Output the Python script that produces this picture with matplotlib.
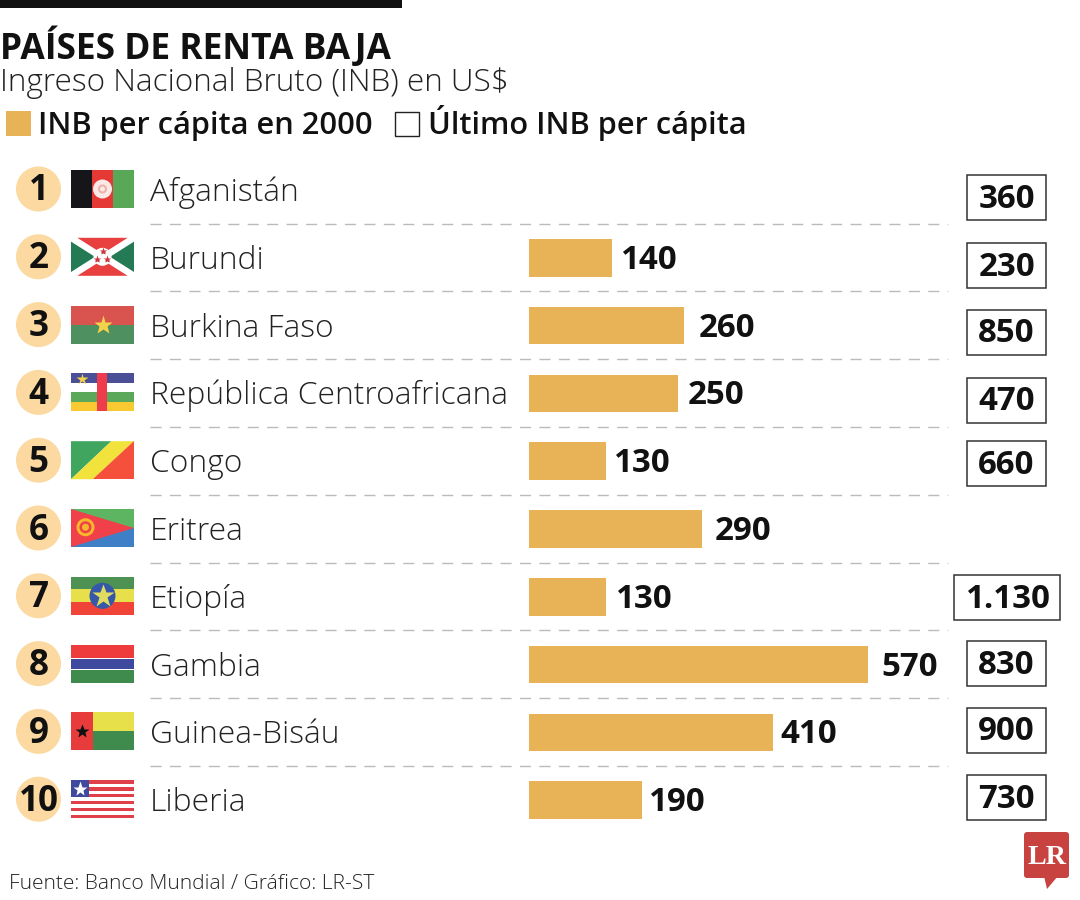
#Países de renta baja: infografía de INB per cápita

import matplotlib
matplotlib.use('Agg')
import matplotlib.pyplot as plt
from matplotlib.patches import Circle, Polygon, Rectangle, FancyBboxPatch
import numpy as np

paises = ['Afganistán', 'Burundi', 'Burkina Faso', 'República Centroafricana', 'Congo',
          'Eritrea', 'Etiopía', 'Gambia', 'Guinea-Bisáu', 'Liberia']
inb_2000 = [None, 140, 260, 250, 130, 290, 130, 570, 410, 190]
inb_ultimo = [360, 230, 850, 470, 660, None, 1130, 830, 900, 730]
etiqueta_ultimo = ['360', '230', '850', '470', '660', '', '1.130', '830', '900', '730']

plt.rcParams['font.family'] = ['Open Sans', 'DejaVu Sans']

AMBAR = '#E8B257'
CREMA = '#FBD9A0'
FONDO_Y0 = 190
PASO = 67.8

fig = plt.figure(figsize=(10.8, 9), dpi=100)

# todo el lienzo en píxeles
ax = fig.add_axes([0, 0, 1, 1])
ax.set_xlim(0, 1080)
ax.set_ylim(900, 0)
ax.axis('off')


def pt(px):
    return px * 0.72


def fila(i):
    return FONDO_Y0 + PASO * i


# encabezado
ax.add_patch(Rectangle((0, 0), 402, 8, color='#111111', lw=0))
ax.text(0, 59, 'PAÍSES DE RENTA BAJA', fontsize=pt(35.4), fontweight='bold', color='#111111', va='baseline')
ax.text(0, 91, 'Ingreso Nacional Bruto (INB) en US$', fontsize=pt(31.5), fontweight='light', color='#222222', va='baseline')
ax.add_patch(Rectangle((6, 111), 25, 25, color=AMBAR, lw=0))
ax.text(38, 134, 'INB per cápita en 2000', fontsize=pt(30.8), fontweight='semibold', color='#111111', va='baseline')
ax.add_patch(Rectangle((395, 112), 24, 24, fc='white', ec='#222222', lw=1))
ax.text(428, 134, 'Último INB per cápita', fontsize=pt(30.8), fontweight='semibold', color='#111111', va='baseline')


def banderas(i):
    x0, y0, w, h = 71, fila(i) - 20, 63, 38

    def r(a, b, c, d, col):
        ax.add_patch(Rectangle((x0 + a * w, y0 + b * h), (c - a) * w, (d - b) * h, fc=col, ec='none', lw=0, zorder=3))

    def p(pts, col):
        pts = [(x0 + a * w, y0 + b * h) for a, b in pts]
        ax.add_patch(Polygon(pts, closed=True, fc=col, ec='none', lw=0, zorder=3))

    def c(a, b, rad, col):
        ax.add_patch(Circle((x0 + a * w, y0 + b * h), rad, fc=col, ec='none', lw=0, zorder=4))

    def e(a, b, s, col):
        ax.plot([x0 + a * w], [y0 + b * h], marker='*', ms=s, mfc=col, mec='none', zorder=5)

    return r, p, c, e


# banderas
r, p, c, e = banderas(0)
r(0, 0, .335, 1, '#15151A'); r(.335, 0, .665, 1, '#E53935'); r(.665, 0, 1, 1, '#58A858')
c(.5, .5, 9.5, '#FBE9E7'); c(.5, .5, 4.5, '#F0B0A8'); c(.5, .5, 2.5, '#FBE9E7')

r, p, c, e = banderas(1)
r(0, 0, 1, 1, 'white')
p([(.1, 0), (.9, 0), (.5, .42)], '#E8403F'); p([(.1, 1), (.9, 1), (.5, .58)], '#E8403F')
p([(0, .1), (.38, .5), (0, .9)], '#247A55'); p([(1, .1), (.62, .5), (1, .9)], '#247A55')
c(.5, .5, 9, 'white'); e(.5, .35, 6, '#C8383E'); e(.42, .56, 6, '#C8383E'); e(.57, .56, 6, '#C8383E')

r, p, c, e = banderas(2)
r(0, 0, 1, .5, '#D9534F'); r(0, .5, 1, 1, '#4F9060'); e(.5, .5, 14, '#F3D34A')

r, p, c, e = banderas(3)
r(0, 0, 1, .25, '#4A4F96'); r(0, .25, 1, .5, 'white'); r(0, .5, 1, .75, '#5BA85B'); r(0, .75, 1, 1, '#F9C932')
r(.42, 0, .57, 1, '#EE3C4C'); e(.17, .14, 9, '#F3D34A')

r, p, c, e = banderas(4)
p([(0, 0), (.64, 0), (0, 1)], '#3FA55F'); p([(.64, 0), (1, 0), (.35, 1), (0, 1)], '#F2E23C'); p([(1, 0), (1, 1), (.35, 1)], '#F4503C')

r, p, c, e = banderas(5)
r(0, 0, 1, .5, '#5DB562'); r(0, .5, 1, 1, '#3F7FC8'); p([(0, 0), (1, .5), (0, 1)], '#F0404A')
c(.23, .48, 9, '#F8B62A'); c(.23, .48, 6, '#F0404A'); c(.23, .48, 3.5, '#F8B62A')

r, p, c, e = banderas(6)
r(0, 0, 1, .33, '#4D9153'); r(0, .33, 1, .67, '#E8E04A'); r(0, .67, 1, 1, '#F04438')
c(.5, .5, 13, '#3558A8'); e(.5, .5, 17, '#E0DC60'); c(.5, .5, 2.5, '#3558A8')

r, p, c, e = banderas(7)
r(0, 0, 1, .35, '#EE3B3B'); r(0, .35, 1, .39, 'white'); r(0, .39, 1, .63, '#3F4A9E'); r(0, .63, 1, .67, 'white'); r(0, .67, 1, 1, '#3F8B4D')

r, p, c, e = banderas(8)
r(.35, 0, 1, .5, '#E8E04A'); r(.35, .5, 1, 1, '#3F8B4D'); r(0, 0, .35, 1, '#E83C3C'); e(.17, .5, 10, '#111111')

r, p, c, e = banderas(9)
for k in range(11):
    r(0, k / 11, 1, (k + 1) / 11, '#E0404A' if k % 2 == 0 else 'white')
r(0, 0, .28, .45, '#3F4A9E'); e(.14, .23, 11, 'white')

# filas
for i, nombre in enumerate(paises):
    y = fila(i)
    ax.add_patch(Circle((38.5, y - 1), 22.5, fc=CREMA, ec='none'))
    ax.text(38.5, y + 1.5, str(i + 1), fontsize=pt(35), fontweight='bold', color='#111111', ha='center', va='center')
    ax.text(150, y + 11, nombre, fontsize=pt(31.8), fontweight='light', color='#222222', va='baseline')
    if i < len(paises) - 1:
        ax.plot([150, 948], [y + 33.5, y + 33.5], color='#BBBBBB', lw=1, dashes=(8, 6))

# barras con escala propia
ax_b = fig.add_axes([529 / 1080, 0, 551 / 1080, 1])
ax_b.set_xlim(0, 551 / 0.595)
ax_b.set_ylim((900 - FONDO_Y0) / PASO, -FONDO_Y0 / PASO)
ax_b.axis('off')
ax_b.patch.set_alpha(0)
sep_etiqueta = [0, 8, 15, 10, 7, 13, 9, 13, 7, 6]
for i, v in enumerate(inb_2000):
    if v is None:
        continue
    ax_b.barh(i, v, height=37.5 / PASO, color=AMBAR, lw=0)
    ax_b.annotate(str(v), (v, i), xytext=(pt(sep_etiqueta[i]), pt(-2.5)), textcoords='offset points',
                  fontsize=pt(33), fontweight='bold', color='#111111', va='center')

# último dato en cajas
for i, v in enumerate(inb_ultimo):
    if v is None:
        continue
    yc = [197, 265, 332, 400, 463, 0, 597, 663, 730, 797][i]
    x0, x1 = (954, 1060) if v >= 1000 else (967, 1046)
    ax.add_patch(Rectangle((x0, yc - 22.5), x1 - x0, 45, fc='white', ec='#333333', lw=1.1))
    ax.text((x0 + x1) / 2, yc + 2, etiqueta_ultimo[i], fontsize=pt(33), fontweight='bold', color='#111111', ha='center', va='center')

# pie y logo
ax.text(9, 889, 'Fuente: Banco Mundial / Gráfico: LR-ST', fontsize=pt(21), fontweight='light', color='#222222', va='baseline')
ax.add_patch(FancyBboxPatch((1026, 834), 41, 42, boxstyle='round,pad=2,rounding_size=3', fc='#C8423F', ec='none'))
ax.add_patch(Polygon([(1044, 876), (1058, 876), (1047, 889)], closed=True, fc='#C8423F', ec='none'))
ax.text(1046.5, 857, 'LR', family='Liberation Serif', fontsize=pt(28), fontweight='bold', color='white', ha='center', va='center')

fig.savefig('out.png', dpi=100, facecolor='white')
